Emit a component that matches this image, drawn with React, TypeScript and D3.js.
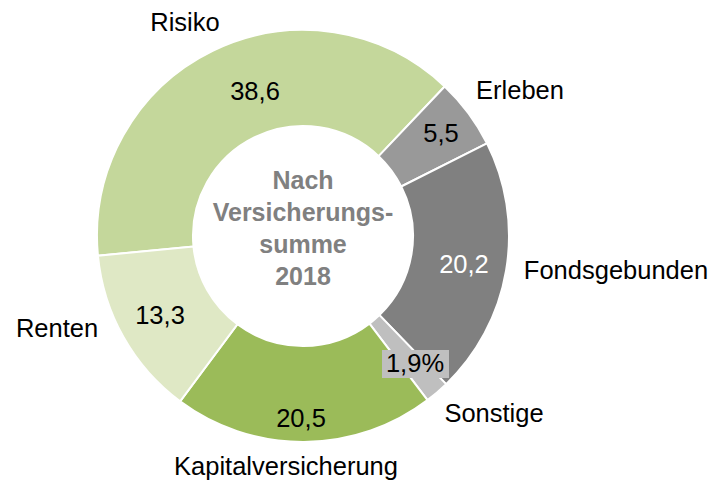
import * as d3 from 'd3';

const categories = ['Risiko', 'Erleben', 'Fondsgebunden', 'Sonstige', 'Kapitalversicherung', 'Renten'];
const values = [38.6, 5.5, 20.2, 1.9, 20.5, 13.3];
const valueLabels = ['38,6', '5,5', '20,2', '1,9%', '20,5', '13,3'];
const colors = ['#c4d79b', '#999999', '#808080', '#bfbfbf', '#9bbb59', '#dfe8c5'];
const centerLines = ['Nach', 'Versicherungs-', 'summe', '2018'];

// label positions relative to the donut center (measured from reference)
const catPos: [number, number][] = [[-118, -214], [217, -146], [313, 34], [191, 177], [-17, 230], [-246, 92]];
const valPos: [number, number][] = [[-48, -145], [138, -103], [161, 28], [112, 127], [-2, 182], [-143, 79]];

const W = 713;
const H = 480;
const cx = 303;
const cy = 236;
const outerR = 206;
const innerR = 110;
const startDeg = -95.5;

export default function App() {
  const pie = d3.pie<number>()
    .sort(null)
    .startAngle((startDeg * Math.PI) / 180)
    .endAngle((startDeg * Math.PI) / 180 + 2 * Math.PI);
  const arcs = pie(values);
  const arc = d3.arc<d3.PieArcDatum<number>>().innerRadius(innerR).outerRadius(outerR);
  const font = 'Liberation Sans, Arial, sans-serif';

  return (
    <svg width={W} height={H} style={{ position: 'absolute', left: 0, top: 0 }}>
      <rect width={W} height={H} fill="#fff" />
      <g transform={`translate(${cx},${cy})`}>
        {arcs.map((a, i) => (
          <path key={i} d={arc(a) || ''} fill={colors[i]} stroke="#fff" strokeWidth={2} />
        ))}
        {arcs.map((a, i) => {
          const [x, y] = valPos[i];
          const isBox = i === 3;
          return (
            <g key={'v' + i}>
              {isBox && <rect x={x - 33} y={y - 13} width={67} height={28} fill="#bfbfbf" />}
              <text x={x} y={y} textAnchor="middle" dominantBaseline="central"
                fontFamily={font} fontSize={25.5} fill={i === 2 ? '#fff' : '#000'}>
                {valueLabels[i]}
              </text>
            </g>
          );
        })}
        {categories.map((c, i) => (
          <text key={'c' + i} x={catPos[i][0]} y={catPos[i][1]} textAnchor="middle"
            dominantBaseline="central" fontFamily={font} fontSize={25.5} fill="#000">
            {c}
          </text>
        ))}
        {centerLines.map((t, i) => (
          <text key={'t' + i} x={0} y={-56 + i * 32} textAnchor="middle" dominantBaseline="central"
            fontFamily={font} fontSize={25} fontWeight="bold" fill="#808080">
            {t}
          </text>
        ))}
      </g>
    </svg>
  );
}
